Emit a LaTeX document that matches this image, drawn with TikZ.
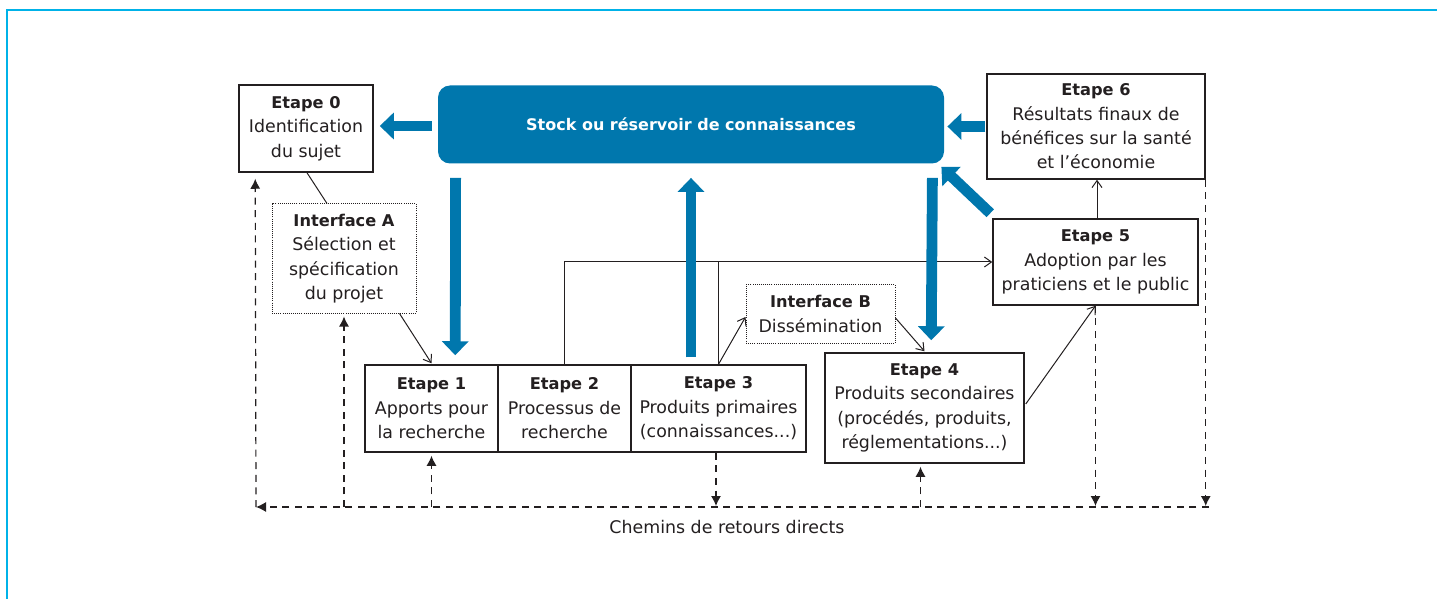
\documentclass[tikz,border=0pt]{standalone}
\usepackage{fontspec}
\setmainfont{DejaVu Sans}
\usetikzlibrary{arrows.meta,calc}
\definecolor{framecol}{RGB}{0,178,232}
\definecolor{kblue}{RGB}{0,119,173}
\definecolor{ink}{RGB}{35,31,32}
\newcommand{\stephead}[1]{{\fontsize{8.1}{12.2}\selectfont\bfseries #1}}
\begin{document}
\begin{tikzpicture}[x=0.5pt,y=-0.5pt,
 stepbox/.style={draw=ink, line width=0.75pt, inner sep=0pt, align=center, text=ink, font=\fontsize{8.7}{12.2}\selectfont},
 ifacebox/.style={stepbox, line width=0.5pt, dash pattern=on 0.45pt off 0.6pt},
 bigarrow/.style={draw=kblue, line width=5.4pt, -{Triangle[length=7pt,width=13pt]}},
 conn/.style={draw=ink, line width=0.5pt},
 connarrow/.style={conn, -{Straight Barb[length=3.5pt,width=5pt]}},
 fbline/.style={draw=ink, line width=0.6pt, dash pattern=on 3.5pt off 2.8pt},
 fbarrow/.style={fbline, -{Latex[length=5pt,width=5pt]}}]
\useasboundingbox (0,0) rectangle (1437,599);
\draw[framecol, line width=1pt] (7,599) -- (7,10) -- (1437,10);

\node[stepbox, minimum width=67pt, minimum height=43.5pt] (e0) at (306,128.5) {\stephead{Etape 0}\\Identification\\du sujet};
\node[fill=kblue, rounded corners=6pt, minimum width=253pt, minimum height=39pt, inner sep=0pt, text=white, font=\fontsize{8}{10}\selectfont\bfseries] (stock) at (691,124.5) {Stock ou réservoir de connaissances};
\node[stepbox, minimum width=109pt, minimum height=52.5pt] (e6) at (1096,126.5) {\stephead{Etape 6}\\Résultats finaux de\\bénéfices sur la santé\\et l’économie};
\node[stepbox, minimum width=102.5pt, minimum height=43pt] (e5) at (1095.5,262) {\stephead{Etape 5}\\Adoption par les\\praticiens et le public};
\node[ifacebox, minimum width=72pt, minimum height=54.5pt] (ia) at (344,258.5) {\stephead{Interface A}\\Sélection et\\spécification\\du projet};
\node[ifacebox, minimum width=74.5pt, minimum height=29pt] (ib) at (820.5,314) {\stephead{Interface B}\\Dissémination};
\node[stepbox, minimum width=66.5pt, minimum height=43.5pt] (e1) at (431.5,408.5) {\stephead{Etape 1}\\Apports pour\\la recherche};
\node[stepbox, minimum width=66.5pt, minimum height=43.5pt] (e2) at (564.5,408.5) {\stephead{Etape 2}\\Processus de\\recherche};
\node[stepbox, minimum width=87.5pt, minimum height=43.5pt] (e3) at (718.5,408.5) {\stephead{Etape 3}\\Produits primaires\\(connaissances...)};
\node[stepbox, minimum width=99.5pt, minimum height=55pt] (e4) at (924.5,408) {\stephead{Etape 4}\\Produits secondaires\\(procédés, produits,\\réglementations...)};
\node[text=ink, inner sep=0pt, font=\fontsize{8.7}{12.2}\selectfont] (lbl) at (727,527) {Chemins de retours directs};

% thin connectors
\draw[conn] ($(e0.south)+(1,0)$) -- ($(ia.north)+(-17,0)$);
\draw[connarrow] ($(ia.south east)+(-17,0)$) -- ($(e1.north)+(0,-1)$);
\draw[connarrow] (e2.north) |- (e5.west);
\draw[conn] (e3.north) -- (e3.north |- e5.west);
\draw[connarrow] (e3.north) -- ($(ib.west)+(0,3)$);
\draw[connarrow] ($(ib.east)+(0,4)$) -- ($(e4.north)+(0,-1)$);
\draw[connarrow] ($(e4.east)+(1,-4)$) -- (e5.south);
\draw[connarrow] ($(e5.north)+(1.5,0)$) -- ($(e6.south)+(1,0)$);

% big blue arrows
\draw[bigarrow] ($(stock.west)+(-6,1.5)$) -- ($(e0.east)+(6,-2.5)$);
\draw[bigarrow] ($(e6.west)+(-1,0)$) -- ($(e6.west -| stock.east)+(3,0)$);
\draw[bigarrow] ($(e5.north west)+(-2,-5)$) -- ($(stock.south east)+(-3,3)$);
\draw[bigarrow] ($(stock.south west)+(18,14)$) -- ($(e1.north west)+(91,-9)$);
\draw[bigarrow] ($(e3.north -| stock.south)+(0,-7)$) -- ($(stock.south)+(0,14)$);
\draw[bigarrow] ($(stock.south east)+(-12,14)$) -- ($(e4.north west)+(107,-12)$);

% feedback paths
\coordinate (bl) at (256,507);
\coordinate (br) at (1209,507);
\draw[fbarrow] (br) -- (bl);
\draw[fbarrow] (bl) -- ($(e0.south west)+(17,6)$);
\draw[fbarrow] (ia.south |- bl) -- ($(ia.south)+(0,3)$);
\draw[fbarrow] (e1.south |- bl) -- ($(e1.south)+(0,3)$);
\draw[fbarrow] ($(e3.south)+(-2.5,0)$) -- ($(e3.south |- bl)+(-2.5,-1)$);
\draw[fbarrow] ($(e4.south |- bl)+(-4,0)$) -- ($(e4.south)+(-4,3)$);
\draw[fbarrow] (e5.south) -- ($(e5.south |- bl)+(0,-1)$);
\draw[fbarrow] (e6.south east) -- ($(e6.south east |- bl)+(0,-1)$);
\end{tikzpicture}
\end{document}
